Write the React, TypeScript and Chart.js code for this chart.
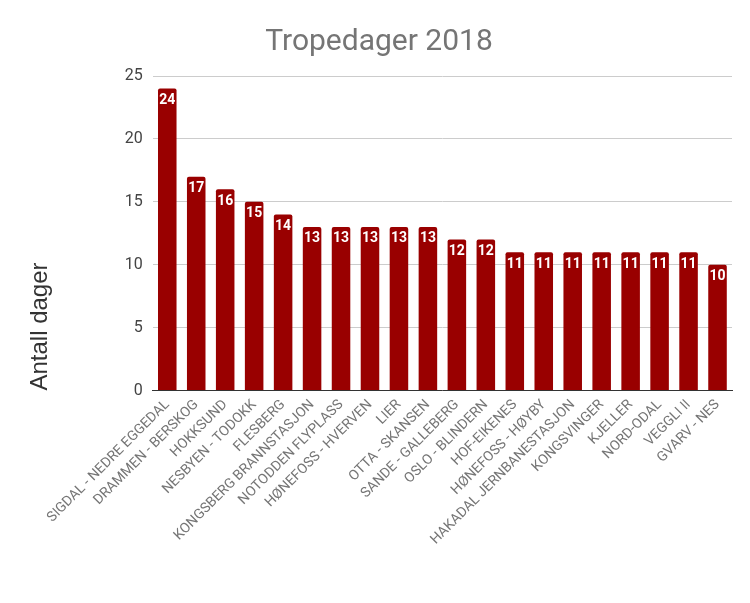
import React, { useEffect, useRef } from "react";
import { Chart, registerables } from "chart.js";

Chart.register(...registerables);

const chartTitle = "Tropedager 2018";
const yAxisTitle = "Antall dager";
const stations = [
  "SIGDAL - NEDRE EGGEDAL",
  "DRAMMEN - BERSKOG",
  "HOKKSUND",
  "NESBYEN - TODOKK",
  "FLESBERG",
  "KONGSBERG BRANNSTASJON",
  "NOTODDEN FLYPLASS",
  "HØNEFOSS - HVERVEN",
  "LIER",
  "OTTA - SKANSEN",
  "SANDE - GALLEBERG",
  "OSLO - BLINDERN",
  "HOF-EIKENES",
  "HØNEFOSS - HØYBY",
  "HAKADAL JERNBANESTASJON",
  "KONGSVINGER",
  "KJELLER",
  "NORD-ODAL",
  "VEGGLI II",
  "GVARV - NES",
];
const tropicalDays = [24, 17, 16, 15, 14, 13, 13, 13, 13, 13, 12, 12, 11, 11, 11, 11, 11, 11, 11, 10];

const valueLabels = {
  id: "valueLabels",
  afterDatasetsDraw(chart: any) {
    const ctx = chart.ctx;
    const meta = chart.getDatasetMeta(0);
    ctx.save();
    ctx.fillStyle = "#ffffff";
    ctx.font = "bold 14px Roboto, 'Noto Sans', sans-serif";
    ctx.textAlign = "center";
    ctx.textBaseline = "middle";
    meta.data.forEach((bar: any, i: number) => {
      ctx.fillText(String(tropicalDays[i]), bar.x, bar.y + 12);
    });
    ctx.restore();
  },
};

export default function App() {
  const ref = useRef<HTMLCanvasElement | null>(null);
  useEffect(() => {
    document.body.style.margin = "0";
    if (!ref.current) return;
    const chart = new Chart(ref.current, {
      type: "bar",
      data: {
        labels: stations,
        datasets: [
          {
            data: tropicalDays,
            backgroundColor: "#990000",
            borderRadius: 2,
            borderSkipped: "bottom",
            barPercentage: 0.64,
            categoryPercentage: 1,
          },
        ],
      },
      options: {
        animation: false,
        responsive: false,
        layout: { padding: { left: 26, right: 18, top: 0, bottom: 49 } },
        plugins: {
          legend: { display: false },
          tooltip: { enabled: false },
          title: {
            display: true,
            text: chartTitle,
            color: "#757575",
            font: { family: "Roboto", size: 30, weight: "normal" },
            padding: { top: 24, bottom: 16 },
          },
        },
        scales: {
          x: {
            grid: { display: false, drawTicks: false },
            border: { display: true, color: "#333333", width: 1 },
            ticks: {
              color: "#757575",
              font: { family: "Roboto", size: 14 },
              minRotation: 45,
              maxRotation: 45,
              autoSkip: false,
              padding: 6,
            },
          },
          y: {
            min: 0,
            max: 25,
            grid: { color: "#cccccc", drawTicks: false },
            border: { display: false },
            ticks: {
              stepSize: 5,
              color: "#444444",
              font: { family: "Roboto", size: 16 },
              padding: 10,
            },
            title: {
              display: true,
              text: yAxisTitle,
              align: "start",
              color: "#333333",
              font: { family: "'Liberation Sans', Arial, sans-serif", size: 24 },
              padding: { top: 0, bottom: 60 },
            },
          },
        },
      },
      plugins: [valueLabels],
    });
    return () => chart.destroy();
  }, []);
  return (
    <div style={{ width: 750, height: 603 }}>
      <canvas ref={ref} width={750} height={603} />
    </div>
  );
}
